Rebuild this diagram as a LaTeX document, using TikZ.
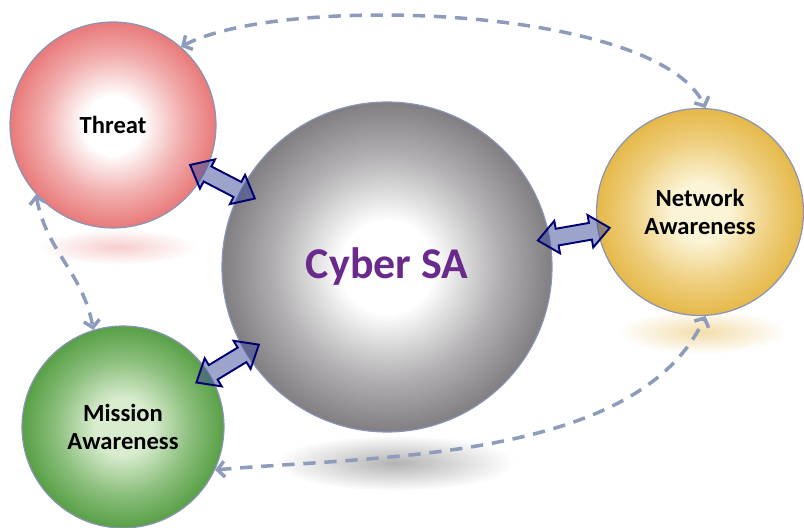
\documentclass[tikz,border=0pt]{standalone}
\usepackage{fontspec}
\setmainfont{Carlito}
\usetikzlibrary{arrows.meta, shapes.arrows}
\definecolor{threat red}{HTML}{E45A5A}
\definecolor{cyber grey}{HTML}{646064}
\definecolor{network gold}{HTML}{E0AA28}
\definecolor{network pale}{HTML}{FCF4D6}
\definecolor{mission green}{HTML}{3A8E26}
\definecolor{mission pale}{HTML}{D8ECCE}
\definecolor{cyber purple}{HTML}{6A2A8C}
\definecolor{ball edge}{HTML}{8A94B5}
\colorlet{link edge}{blue!45!black}
\definecolor{link fill}{HTML}{3C4A9A}
\definecolor{feedback line}{HTML}{8E9BBA}
\colorlet{ballin}{white}
\colorlet{ballout}{black}
\pgfdeclareradialshading[ballin,ballout]{ball}{\pgfpoint{0bp}{0bp}}{%
  color(0bp)=(ballin); color(7bp)=(ballin);
  color(17bp)=(ballout!50!ballin); color(26bp)=(ballout!85!ballin);
  color(33bp)=(ballout); color(50bp)=(ballout)}
\tikzset{
  ball/.style 2 args={circle, draw=ball edge, line width=0.7pt, shading=ball,
    /utils/exec={\colorlet{ballin}{#1}\colorlet{ballout}{#2}},
    font=\bfseries\fontsize{14}{16}\selectfont, align=center, inner sep=0pt},
  linkarrow/.style={double arrow, draw=link edge, line width=1.1pt,
    fill=link fill, fill opacity=0.5, minimum height=1.46cm, minimum width=0pt,
    inner sep=0.15cm, double arrow head extend=0.16cm, double arrow tip angle=80},
  feedback/.style={draw=feedback line, line width=2pt, dash pattern=on 7pt off 5pt,
    {Straight Barb[length=4pt,width=9pt]}-{Straight Barb[length=4pt,width=9pt]}}
}

\begin{document}
\begin{tikzpicture}[x=0.02cm, y=0.02cm]
  \useasboundingbox (0,0) rectangle (804,527);
  \shade[inner color=threat red!30, outer color=white] (118,280) ellipse [x radius=80, y radius=18];
  \shade[inner color=black!30, outer color=white] (395,64) ellipse [x radius=120, y radius=28];
  \shade[inner color=network gold!40, outer color=white] (702,195) ellipse [x radius=85, y radius=22];

  \node[ball={white}{threat red}, minimum size=4.12cm] (threat) at (113,402) {Threat};
  \node[ball={white}{cyber grey}, minimum size=6.6cm, text=cyber purple,
    font=\bfseries\fontsize{25}{30}\selectfont] (cyber) at (387,260) {Cyber SA};
  \node[ball={network pale}{network gold}, minimum size=4.14cm] (network) at (700,315) {Network\\Awareness};
  \node[ball={mission pale}{mission green}, minimum size=4.04cm] (mission) at (123,100) {Mission\\Awareness};

  \path (threat) -- node[linkarrow, sloped] {} (cyber);
  \path (cyber) -- node[linkarrow, sloped] {} (network);
  \path (cyber) -- node[linkarrow, sloped] {} (mission);

  \draw[feedback] (threat.49) to[out=28, in=115, looseness=0.55] (network.87);
  \draw[feedback] (threat.222) to[out=-80, in=100] (mission.107);
  \draw[feedback] (mission.-25) to[out=5, in=-115, looseness=0.8] (network.-87);
\end{tikzpicture}
\end{document}
